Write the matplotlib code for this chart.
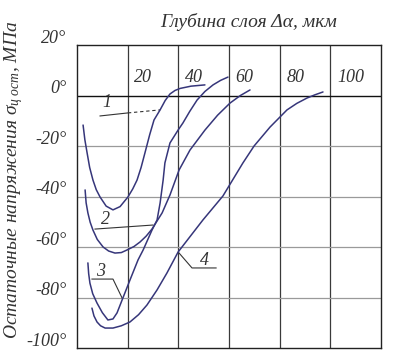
import matplotlib
matplotlib.use("Agg")
import matplotlib.pyplot as plt

plt.rcParams['font.family'] = ['Liberation Serif', 'DejaVu Serif']
plt.rcParams['mathtext.fontset'] = 'custom'
plt.rcParams['mathtext.it'] = 'Liberation Serif:italic'
plt.rcParams['mathtext.rm'] = 'Liberation Serif'

# ---- data ----
x_ticks = [20, 40, 60, 80, 100]
x_tick_labels = ["20", "40", "60", "80", "100"]
y_ticks = [20, 0, -20, -40, -60, -80, -100]
y_tick_labels = ["20°", "0°", "-20°", "-40°", "-60°", "-80°", "-100°"]

c1_x = [2.4, 3.1, 4.0, 5.0, 6.3, 7.6, 9.1, 11.5, 14.2, 17.0, 20.1, 22.0, 23.7, 25.3, 26.8, 28.7, 30.4, 32.8, 34.8, 36.7, 38.7, 40.7, 45.0, 50.5]
c1_y = [-11.7, -17.5, -22.8, -28.5, -33.5, -37.3, -40.2, -43.8, -45.3, -44.0, -40.2, -37.0, -33.5, -28.5, -22.8, -15.5, -9.7, -5.7, -2.0, 0.6, 2.0, 2.8, 3.7, 4.2]

c2_x = [3.2, 3.6, 4.3, 5.2, 6.3, 8.0, 10.3, 12.5, 15.0, 17.5, 19.7, 22.5, 24.9, 27.3, 29.6, 33.6, 36.7, 40.3, 44.6, 50.5, 55.5, 60.4, 64.5, 68.3]
c2_y = [-37.4, -42.5, -46.5, -50.2, -53.3, -57.0, -60.0, -61.6, -62.4, -62.2, -61.2, -59.8, -58.0, -55.7, -52.9, -46.5, -39.4, -29.5, -21.6, -13.7, -7.8, -3.0, 0.0, 2.2]

c3_x = [4.3, 4.6, 5.1, 6.2, 7.9, 10.0, 12.2, 14.2, 15.8, 17.8, 20.9, 24.1, 26.1, 29.6, 31.6, 32.8, 34.0, 34.7, 36.7, 39.9, 41.8, 44.5, 47.4, 50.5, 53.7, 56.7, 59.6]
c3_y = [-66.3, -70.5, -74.3, -78.5, -82.2, -86.0, -88.9, -88.5, -86.1, -81.0, -73.1, -65.1, -61.2, -53.3, -49.3, -42.6, -33.5, -26.7, -18.8, -13.7, -10.9, -6.3, -1.8, 1.6, 4.2, 6.0, 7.3]

c4_x = [5.9, 6.7, 7.9, 9.3, 11.1, 14.2, 17.5, 20.9, 24.3, 27.6, 31.6, 35.5, 39.9, 49.7, 57.6, 65.5, 69.9, 76.2, 82.9, 86.8, 90.8, 94.0, 97.1]
c4_y = [-84.2, -87.3, -89.7, -91.2, -92.1, -92.1, -91.2, -89.7, -86.8, -83.0, -77.0, -70.3, -62.0, -49.3, -39.8, -26.7, -20.0, -12.5, -5.7, -3.1, -1.0, 0.3, 1.4]

curve_labels = ["1", "2", "3", "4"]
label_pos = [(11.8, -2.6), (11.1, -49.3), (9.1, -69.9), (50.5, -65.5)]

W, H = 415, 356
fig = plt.figure(figsize=(W / 100, H / 100), dpi=100)
fig.patch.set_facecolor("white")
ax = fig.add_axes([77 / W, (H - 348) / H, (381 - 77) / W, (348 - 45) / H])
ax.set_xlim(0, 120)
ax.set_ylim(-100, 20)
ax.set_xticks([])
ax.set_yticks([])
for s in ax.spines.values():
    s.set_color("#222222")
    s.set_linewidth(1.0)

# grid
for xv in [20, 40, 60, 80, 100]:
    ax.axvline(xv, color="#3a3a3a", lw=0.9, zorder=1)
for yv in [-20, -40, -60, -80]:
    ax.axhline(yv, color="#9a9a9a", lw=0.9, zorder=1)
ax.axhline(0, color="#111111", lw=1.0, zorder=1)

curve_color = "#36367a"
for xs, ys in [(c1_x, c1_y), (c2_x, c2_y), (c3_x, c3_y), (c4_x, c4_y)]:
    ax.plot(xs, ys, color=curve_color, lw=1.1, zorder=3,
            solid_joinstyle="round", solid_capstyle="round")

# tick labels
for xv, lab in zip(x_ticks, x_tick_labels):
    ax.text(xv + 2.6, 7.0, lab, ha="left", va="center", fontsize=13,
            style="italic", color="#333333")
for yv, lab in zip(y_ticks, y_tick_labels):
    ax.text(-4.3, yv + 2.6, lab, ha="right", va="center", fontsize=13,
            style="italic", color="#333333", clip_on=False)

# leader lines
lc = "#333333"
ax.plot([9.1, 20.1], [-8.1, -6.9], color=lc, lw=0.8)
ax.plot([20.1, 32.8], [-6.9, -5.7], color=lc, lw=0.8, ls=(0, (3, 2.5)))
ax.plot([7.1, 30.0], [-52.9, -51.3], color=lc, lw=0.8)
ax.plot([5.9, 14.2, 17.8], [-72.7, -72.7, -80.2], color=lc, lw=0.8)
ax.plot([40.3, 45.4, 54.9], [-62.4, -68.3, -68.3], color=lc, lw=0.8)

for lab, (lx, ly) in zip(curve_labels, label_pos):
    ax.text(lx, ly, lab, ha="center", va="center", fontsize=13,
            style="italic", color="#333333")

fig.text(249 / W, 1 - 22 / H, "Глубина слоя Δα, мкм", ha="center", va="center",
         fontsize=14, style="italic", color="#333333")
fig.text(14 / W, 1 - 180 / H, "Остаточные напряжения $\\sigma_{\\mathit{ц\\ ост}}$, МПа",
         ha="center", va="center", rotation=90, fontsize=14, style="italic",
         color="#333333")

fig.savefig("out.png", dpi=100, facecolor="white")
